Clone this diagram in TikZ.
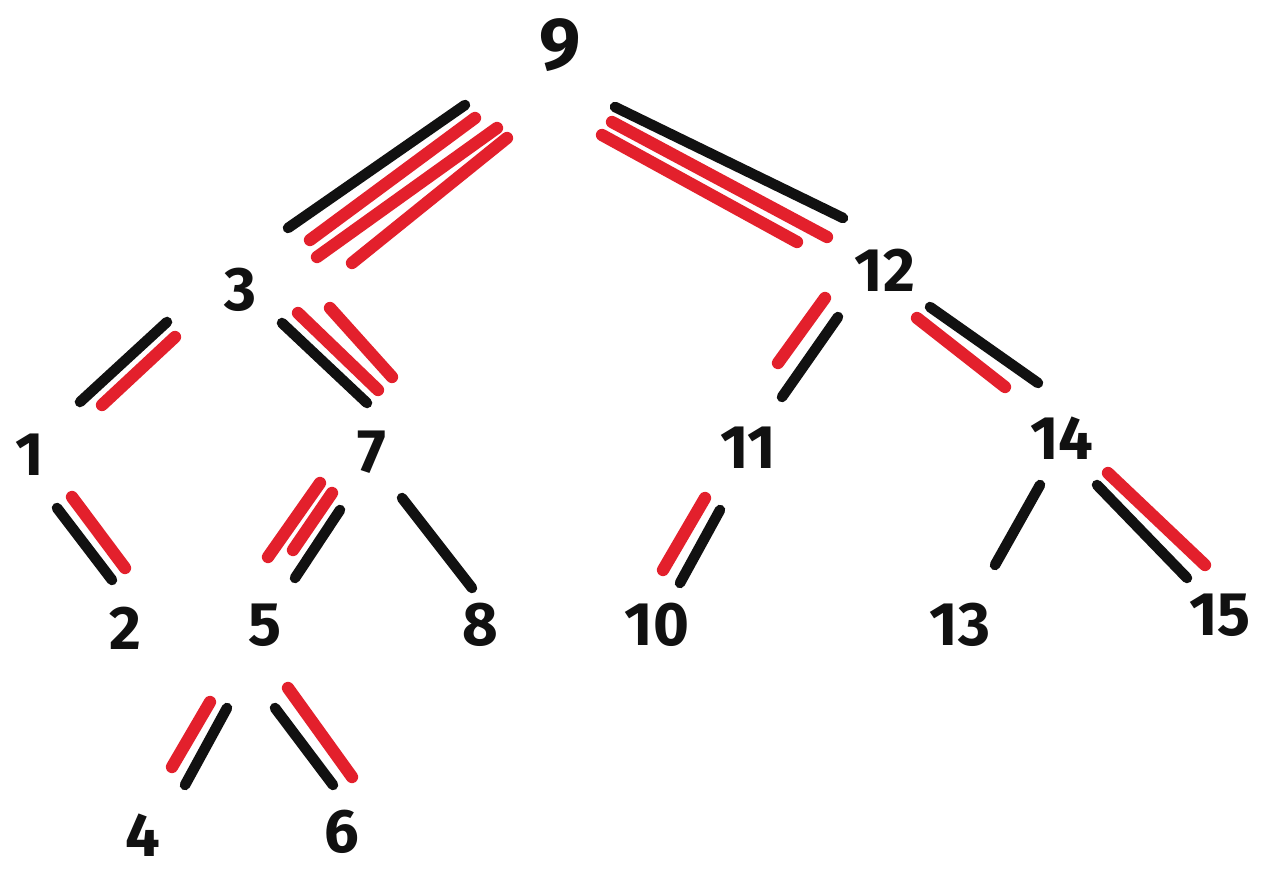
\documentclass[tikz,border=0pt]{standalone}
\usepackage{fontspec}
\setmainfont{Fira Sans}
\usetikzlibrary{positioning}
\definecolor{penBlack}{HTML}{111111}
\definecolor{penRed}{HTML}{E3202C}
\tikzset{
  key/.style={font=\fontsize{35}{40}\selectfont\bfseries, text=penBlack, inner sep=0pt},
  rootKey/.style={key, font=\fontsize{42}{48}\selectfont\bfseries},
  inkBlack/.style={draw=penBlack, line width=6pt, line cap=round},
  inkRed/.style={draw=penRed, line width=7pt, line cap=round}
}
\begin{document}
\begin{tikzpicture}[x=0.02cm, y=-0.02cm]
  \useasboundingbox[fill=white] (0,0) rectangle (1262,885);
  % keys of the tree
  \node[rootKey] (n9) at (560,45) {9};
  \node[key] (n3) at (240,290) {3};
  \node[key] (n12) at (885,270) {12};
  \node[key] (n1) at (30,455) {1};
  \node[key] (n7) at (372,452) {7};
  \node[key] (n11) at (748,448) {11};
  \node[key] (n14) at (1062,438) {14};
  \node[key] (n2) at (125,628) {2};
  \node[key] (n5) at (265,625) {5};
  \node[key] (n8) at (480,625) {8};
  \node[key] (n10) at (657,625) {10};
  \node[key] (n13) at (960,625) {13};
  \node[key] (n15) at (1220,615) {15};
  \node[key] (n4) at (143,835) {4};
  \node[key] (n6) at (342,832) {6};
  % black strokes, one per edge
  \foreach \xa/\ya/\xb/\yb in {288/228/465/105, 615/107/843/218, 80/402/167/322,
      282/323/367/403, 57/508/112/580, 340/510/295/578, 402/498/472/588,
      838/317/782/397, 930/307/1038/383, 720/510/680/583, 1040/485/995/565,
      1097/485/1187/578, 227/708/185/785, 275/708/333/785}
    \draw[inkBlack] (\xa,\ya) -- (\xb,\yb);
  % red strokes beside them
  \foreach \xa/\ya/\xb/\yb in {310/240/475/118, 317/257/497/128, 352/263/507/138,
      612/122/827/237, 602/135/797/242, 102/405/175/337, 298/313/378/390,
      330/308/392/377, 72/497/125/568, 320/483/268/557, 332/493/293/550,
      825/298/778/363, 917/318/1005/387, 705/498/663/570, 1108/473/1205/565,
      210/702/172/767, 288/688/352/777}
    \draw[inkRed] (\xa,\ya) -- (\xb,\yb);
\end{tikzpicture}
\end{document}
